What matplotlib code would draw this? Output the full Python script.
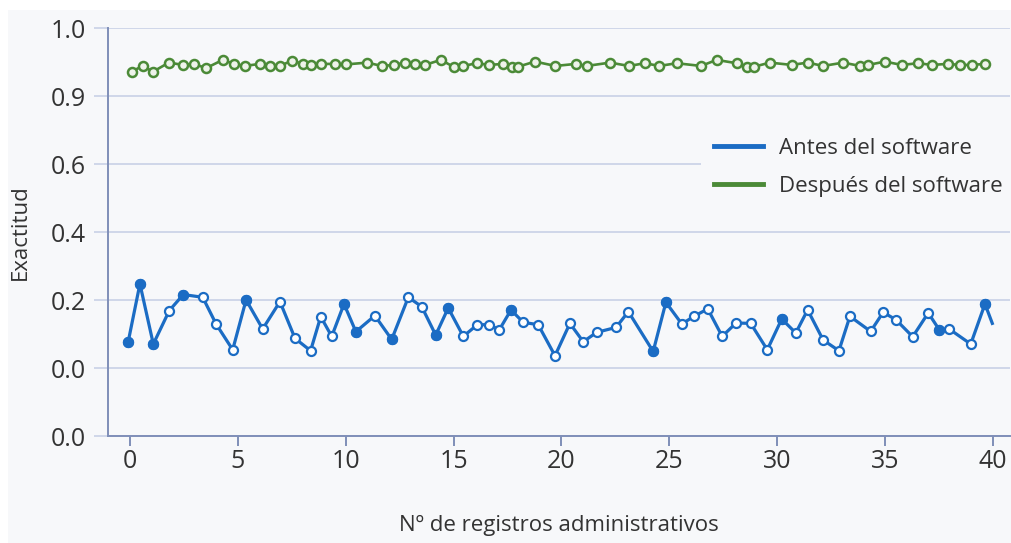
import numpy as np
import matplotlib
matplotlib.use('Agg')
from matplotlib import pyplot as plt
from matplotlib.lines import Line2D
from matplotlib.patches import Rectangle

plt.rcParams['font.family'] = ['Open Sans', 'DejaVu Sans']

# y axis is drawn on evenly spaced positions 0..6 carrying these labels
y_tick_labels = ['0.0', '0.0', '0.2', '0.4', '0.6', '0.9', '1.0']
x_ticks = [0, 5, 10, 15, 20, 25, 30, 35, 40]

# "Antes del software" (x, position on the y axis)
antes_x = [-0.09, 0.46, 1.08, 1.82, 2.47, 3.37, 3.99, 4.76, 5.38, 6.15,
           6.95, 7.65, 8.37, 8.84, 9.35, 9.92, 10.47, 11.35, 12.13, 12.90,
           13.52, 14.17, 14.75, 15.45, 16.10, 16.64, 17.12, 17.66, 18.23, 18.92,
           19.70, 20.39, 21.01, 21.63, 22.53, 23.10, 24.25, 24.84, 25.58, 26.14,
           26.78, 27.45, 28.09, 28.77, 29.54, 30.21, 30.86, 31.41, 32.13, 32.86,
           33.37, 34.33, 34.91, 35.50, 36.28, 37.00, 37.51, 37.97, 38.97, 39.63,
           39.97]
antes_y = [1.376, 2.237, 1.352, 1.844, 2.080, 2.040, 1.647, 1.268, 2.001, 1.574,
           1.976, 1.435, 1.254, 1.755, 1.465, 1.942, 1.534, 1.770, 1.420, 2.040,
           1.903, 1.485, 1.883, 1.465, 1.637, 1.637, 1.563, 1.854, 1.671, 1.637,
           1.180, 1.656, 1.386, 1.524, 1.597, 1.829, 1.243, 1.966, 1.647, 1.760,
           1.869, 1.465, 1.662, 1.656, 1.268, 1.721, 1.515, 1.854, 1.411, 1.254,
           1.760, 1.538, 1.819, 1.711, 1.460, 1.810, 1.563, 1.574, 1.352, 1.942,
           1.656]
# points drawn as solid dots in the original
antes_filled = [0, 1, 2, 4, 8, 15, 16, 18, 21, 22, 27, 36, 37, 45, 56, 59]

# "Después del software"
despues_x = [0.08, 0.58, 1.07, 1.80, 2.46, 2.98, 3.52, 4.30, 4.81, 5.33,
             6.01, 6.47, 6.95, 7.49, 8.00, 8.37, 8.85, 9.50, 10.03, 10.99,
             11.67, 12.26, 12.75, 13.21, 13.67, 14.41, 15.03, 15.45, 16.07, 16.64,
             17.30, 17.69, 18.00, 18.77, 19.72, 20.66, 21.17, 22.25, 23.13, 23.87,
             24.53, 25.34, 26.47, 27.19, 28.12, 28.58, 28.94, 29.66, 30.67, 31.41,
             32.13, 33.06, 33.84, 34.22, 34.99, 35.77, 36.54, 37.16, 37.90, 38.47,
             39.01, 39.63]
despues_y = [5.358, 5.442, 5.358, 5.491, 5.457, 5.472, 5.409, 5.531, 5.472, 5.442,
             5.472, 5.442, 5.442, 5.519, 5.476, 5.457, 5.472, 5.472, 5.465, 5.491,
             5.442, 5.457, 5.491, 5.472, 5.457, 5.531, 5.423, 5.442, 5.482, 5.457,
             5.472, 5.432, 5.432, 5.506, 5.442, 5.472, 5.442, 5.491, 5.442, 5.482,
             5.442, 5.482, 5.442, 5.531, 5.482, 5.423, 5.432, 5.491, 5.457, 5.491,
             5.442, 5.491, 5.442, 5.457, 5.506, 5.457, 5.482, 5.457, 5.472, 5.457,
             5.457, 5.472]

blue = '#1b6cc4'
green = '#4b8a37'
bg = '#f7f8fa'
grid_c = '#c9d1e6'
spine_c = '#7f8fb8'
text_c = '#333333'

fig = plt.figure(figsize=(10.12, 5.43), dpi=100)
fig.patch.set_facecolor('white')
fig.patches.append(Rectangle((8 / 1012, 0), 1, 1 - 10 / 543, transform=fig.transFigure,
                             facecolor=bg, edgecolor='none', zorder=-10))

ax = fig.add_axes([108 / 1012, 1 - 436 / 543, (1010 - 108) / 1012, (436 - 28) / 543])
ax.set_facecolor(bg)

ax.plot(antes_x, antes_y, color=blue, lw=2.3, zorder=3)
ax.plot(antes_x[:-1], antes_y[:-1], ls='none', marker='o', ms=6.5, mew=1.6,
        mec=blue, mfc='white', zorder=4)
ax.plot([antes_x[i] for i in antes_filled], [antes_y[i] for i in antes_filled],
        ls='none', marker='o', ms=6.5, mew=1.6, mec=blue, mfc=blue, zorder=5)

ax.plot(despues_x, despues_y, color=green, lw=1.9, marker='o', ms=6.5, mew=1.8,
        mec=green, mfc='#eef3ea', zorder=3)

ax.set_xlim(-1.02, 40.79)
ax.set_ylim(0, 6)
ax.set_yticks(range(7))
ax.set_yticklabels(y_tick_labels)
ax.set_xticks(x_ticks)
ax.grid(axis='y', color=grid_c, lw=1.2, zorder=0)
ax.tick_params(axis='y', length=10, width=1.2, color=grid_c, pad=6,
               labelsize=18, labelcolor=text_c)
ax.tick_params(axis='x', length=7, width=1.4, color=spine_c, pad=2,
               labelsize=18, labelcolor=text_c)
for s in ['top', 'right']:
    ax.spines[s].set_visible(False)
for s in ['left', 'bottom']:
    ax.spines[s].set_color(spine_c)
    ax.spines[s].set_linewidth(1.4)

ax.set_ylabel('Exactitud', fontsize=16, color=text_c, labelpad=14)
ax.set_xlabel('Nº de registros administrativos', fontsize=16, color=text_c, labelpad=30)

handles = [Line2D([], [], color=blue, lw=3.5), Line2D([], [], color=green, lw=3.5)]
leg = ax.legend(handles, ['Antes del software', 'Después del software'],
                loc='upper left', bbox_to_anchor=(0.645, 0.79), fontsize=16,
                frameon=True, facecolor=bg, edgecolor='none', framealpha=1,
                handlelength=2.2, handletextpad=0.7, labelspacing=0.75,
                borderpad=0.6)
for t in leg.get_texts():
    t.set_color(text_c)
leg.set_zorder(6)

fig.savefig('out.png', dpi=100, facecolor=fig.get_facecolor())
